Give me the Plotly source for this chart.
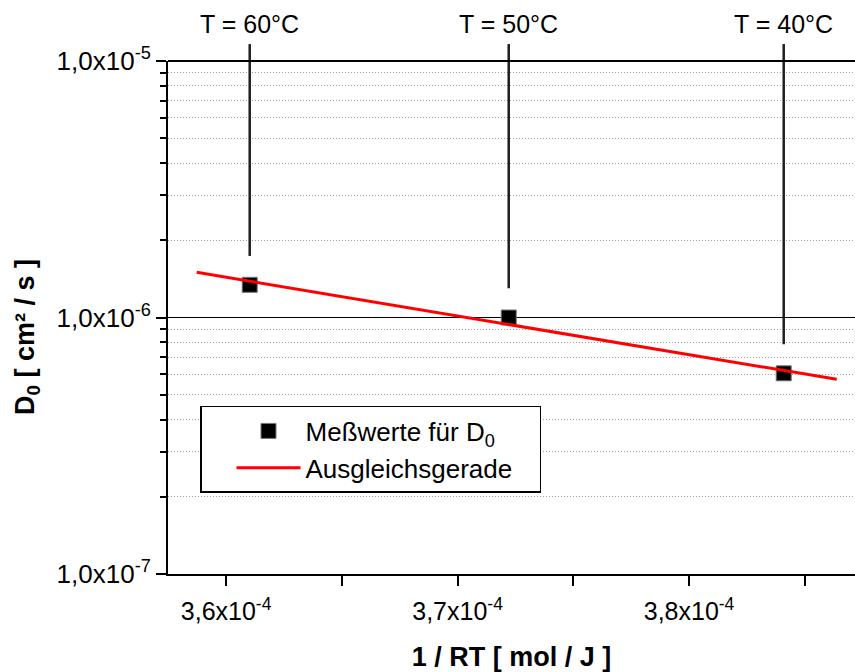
import plotly.graph_objects as go

# Measured diffusion coefficients D0 against 1/RT
inv_rt = [3.6102e-4, 3.7221e-4, 3.8409e-4]
d0 = [1.341e-6, 1.0e-6, 6.06e-7]

# Regression line (end points)
fit_x = [3.5873e-4, 3.8638e-4]
fit_y = [1.50e-6, 5.74e-7]

# Temperature markers above each measurement
temp_labels = ["T = 60°C", "T = 50°C", "T = 40°C"]
guide_end = [1.738e-6, 1.30e-6, 7.86e-7]

# Axis ticks
y_tickvals = [1e-7, 1e-6, 1e-5]
y_ticktext = ["1,0x10<sup>-7</sup>", "1,0x10<sup>-6</sup>", "1,0x10<sup>-5</sup>"]
y_minor = [m * 10.0 ** e for e in (-7, -6) for m in range(2, 10)]
x_tickvals = [3.6e-4, 3.7e-4, 3.8e-4]
x_ticktext = ["3,6x10<sup>-4</sup>", "3,7x10<sup>-4</sup>", "3,8x10<sup>-4</sup>"]
x_minor = [3.65e-4, 3.75e-4, 3.85e-4]

FONT = "Liberation Sans, Arial, sans-serif"
NBSP = "\u00a0"

fig = go.Figure()

fig.add_trace(go.Scatter(
    x=inv_rt, y=d0, mode="markers",
    name="Meßwerte für D<sub>0</sub>",
    marker=dict(symbol="square", size=15, color="black",
                line=dict(color="#777777", width=1)),
))
fig.add_trace(go.Scatter(
    x=fit_x, y=fit_y, mode="lines",
    name="Ausgleichsgerade" + NBSP * 3,
    line=dict(color="#ff0000", width=3),
))

# Vertical guide lines from the temperature labels down to the points
for xv, ye, lab in zip(inv_rt, guide_end, temp_labels):
    fig.add_shape(type="line", xref="x", yref="y", x0=xv, x1=xv, y0=ye, y1=1e-5,
                  line=dict(color="#1e1e1e", width=2.5), layer="above")
    fig.add_shape(type="line", xref="x", yref="paper", x0=xv, x1=xv, y0=1.0, y1=1.033,
                  line=dict(color="#1e1e1e", width=2.5), layer="above")
    fig.add_annotation(x=xv, xref="x", y=1.072, yref="paper", text=lab,
                       showarrow=False, xanchor="center", yanchor="middle",
                       font=dict(family=FONT, size=25, color="black"))

# Top frame line
fig.add_shape(type="line", xref="paper", yref="paper", x0=0, x1=1, y0=1, y1=1,
              line=dict(color="black", width=2))

# Y axis title, placed slightly below the axis centre
fig.add_annotation(x=-0.2052, xref="paper", y=0.462, yref="paper",
                   text="D<sub>0</sub> [ cm² / s ]", textangle=-90,
                   showarrow=False, xanchor="center", yanchor="middle",
                   font=dict(family=FONT, size=27, weight="bold", color="black"))

fig.update_layout(
    width=855, height=672,
    margin=dict(l=168, r=0, t=61, b=98),
    paper_bgcolor="white", plot_bgcolor="white",
    font=dict(family=FONT, color="black"),
    showlegend=True,
    legend=dict(
        x=0.0466, y=0.3275, xanchor="left", yanchor="top",
        bgcolor="white", bordercolor="black", borderwidth=1.5,
        font=dict(family=FONT, size=26, color="black"),
        indentation=30, itemwidth=64, tracegroupgap=0,
    ),
)

fig.update_xaxes(
    type="linear", range=[3.5749e-4, 3.8717e-4],
    showline=True, linecolor="black", linewidth=2,
    showgrid=False, zeroline=False,
    tickmode="array", tickvals=x_tickvals, ticktext=x_ticktext,
    ticks="outside", ticklen=10, tickwidth=2, tickcolor="black",
    ticklabelstandoff=4,
    tickfont=dict(family=FONT, size=25),
    minor=dict(tickmode="array", tickvals=x_minor, ticks="outside",
               ticklen=10, tickwidth=2, tickcolor="black", showgrid=False),
    title=dict(text="1 / RT [ mol / J ]", standoff=26,
               font=dict(family=FONT, size=27, weight="bold")),
)

fig.update_yaxes(
    type="log", range=[-7, -5],
    showline=True, linecolor="black", linewidth=2,
    showgrid=True, gridcolor="black", gridwidth=1, zeroline=False,
    tickmode="array", tickvals=y_tickvals, ticktext=y_ticktext,
    ticks="outside", ticklen=10, tickwidth=2, tickcolor="black",
    tickfont=dict(family=FONT, size=26),
    minor=dict(tickmode="array", tickvals=y_minor, ticks="outside",
               ticklen=6, tickwidth=2, tickcolor="black",
               showgrid=True, gridcolor="#a0a0a0", gridwidth=1, griddash="1px,2px"),
)

fig.write_html("out.html")
